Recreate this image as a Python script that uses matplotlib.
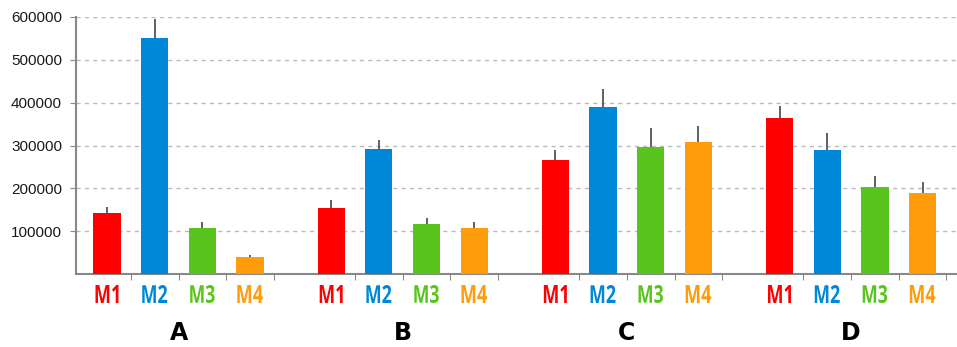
import numpy as np
import matplotlib
matplotlib.use("Agg")
from matplotlib import pyplot as plt
from matplotlib.textpath import TextPath
from matplotlib.font_manager import FontProperties
from matplotlib.patches import PathPatch
import matplotlib.transforms as mtransforms

# mean values and error bars per group (A-D) and series (M1-M4)
groups = ["A", "B", "C", "D"]
series = ["M1", "M2", "M3", "M4"]
colors = ["#ff0000", "#0088d8", "#5ac41e", "#ff9c0c"]

means = np.array([
    [142000, 552000, 108000, 40000],
    [154000, 292000, 116000, 107000],
    [265000, 391000, 297000, 309000],
    [364000, 290000, 203000, 188000],
])
errors = np.array([
    [15000, 43000, 14000, 5000],
    [18000, 22000, 15000, 15000],
    [24000, 40000, 44000, 37000],
    [29000, 40000, 26000, 27000],
])

gap = 4.7
fig = plt.figure(figsize=(9.57, 3.47), dpi=100)
ax = fig.add_axes([76 / 957, 73 / 347, 880 / 957, 1 - 17 / 347 - 73 / 347])

# condensed bold labels: squeeze the glyph outlines horizontally
label_font = FontProperties(family="Open Sans", weight="bold")


def narrow_label(x, s, color, cap=18, squeeze=0.72, drop=29):
    tp = TextPath((0, 0), s, size=1, prop=label_font)
    bb = tp.get_extents()
    sy = cap / bb.height
    tr = (mtransforms.Affine2D().translate(-(bb.x0 + bb.width / 2), -bb.y0)
          .scale(sy * squeeze, sy)
          + mtransforms.ScaledTranslation(x, 0, ax.transData)
          + mtransforms.Affine2D().translate(0, -drop))
    ax.add_patch(PathPatch(tp, transform=tr, facecolor=color, lw=0, clip_on=False))


ticks = []
for g in range(len(groups)):
    x = g * gap + np.arange(4)
    ax.bar(x, means[g], width=0.57, color=colors, zorder=3)
    # only the upper half of the error bar
    ax.errorbar(x, means[g], yerr=[np.zeros(4), errors[g]], fmt="none",
                ecolor="#555555", elinewidth=1.3, capsize=0, zorder=2)
    for i in range(4):
        narrow_label(x[i], series[i], colors[i])
    ax.text(g * gap + 1.5, -137000, groups[g], ha="center", va="center",
            fontsize=17, fontweight="bold", family="DejaVu Sans")
    ticks.extend(x + 0.5)

ax.set_xlim(-0.65, 17.8)
ax.set_ylim(0, 600000)
ax.set_xticks(ticks)
ax.set_xticklabels([])
ax.set_yticks(np.arange(100000, 600001, 100000))
ax.set_yticklabels([str(v) for v in range(100000, 600001, 100000)],
                   family="Liberation Sans", fontsize=11, color="#1a1a1a")
ax.tick_params(axis="x", length=4, color="#888888", direction="out")
ax.tick_params(axis="y", length=4, color="#888888", pad=6)
ax.yaxis.grid(True, linestyle=(0, (3, 3)), color="#bbbbbb", linewidth=1, zorder=0)
for side in ["top", "right"]:
    ax.spines[side].set_visible(False)
for side in ["left", "bottom"]:
    ax.spines[side].set_color("#888888")
    ax.spines[side].set_linewidth(1.5)

fig.savefig("out.png", dpi=100)
